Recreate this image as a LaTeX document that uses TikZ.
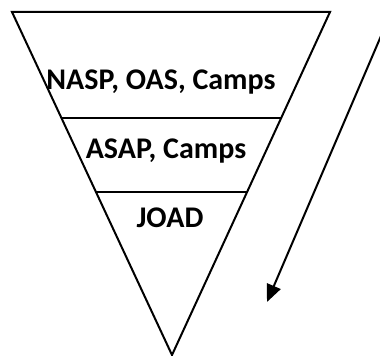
\documentclass[tikz,border=0pt]{standalone}
\usepackage{fontspec}
\setmainfont{Carlito}
\usetikzlibrary{calc,arrows.meta}

\begin{document}
\begin{tikzpicture}[x=0.75pt,y=0.75pt,yscale=-1,xscale=1]
                \useasboundingbox (0,0) rectangle (380,356);
                \tikzset{lbl/.style={font=\fontsize{22.5}{27}\selectfont\bfseries, inner sep=0pt}}
                \coordinate (TL) at (12,12); \coordinate (TR) at (330,12); \coordinate (BOT) at (172,355);
                %Triangle [id:dp4410256037912871] 
                \draw [line width=1.5] (TL) -- (TR) -- (BOT) -- cycle ;
                %Straight Lines [id:da6183401276530229] 
                \draw [line width=1.5] ($(TL)!0.309!(BOT)$) -- ($(TR)!0.309!(BOT)$) ;
                %Straight Lines [id:da0942157380617252] 
                \draw [line width=1.5] ($(TL)!0.525!(BOT)$) -- ($(TR)!0.525!(BOT)$) ;
                %Text labels
                \node [lbl] (nasp) at (161,82) {NASP, OAS, Camps};
                \node [lbl] (asap) at (166,151) {ASAP, Camps};
                \node [lbl] (joad) at (170,218) {JOAD};
                %Straight Lines [id:da7731905264118532] 
                \coordinate (A0) at (381,36); \coordinate (A1) at (267,302);
                \draw [line width=1.5, -{Triangle[length=13pt,width=11pt]}] (A0) -- (A1) ;
\end{tikzpicture}
\end{document}
